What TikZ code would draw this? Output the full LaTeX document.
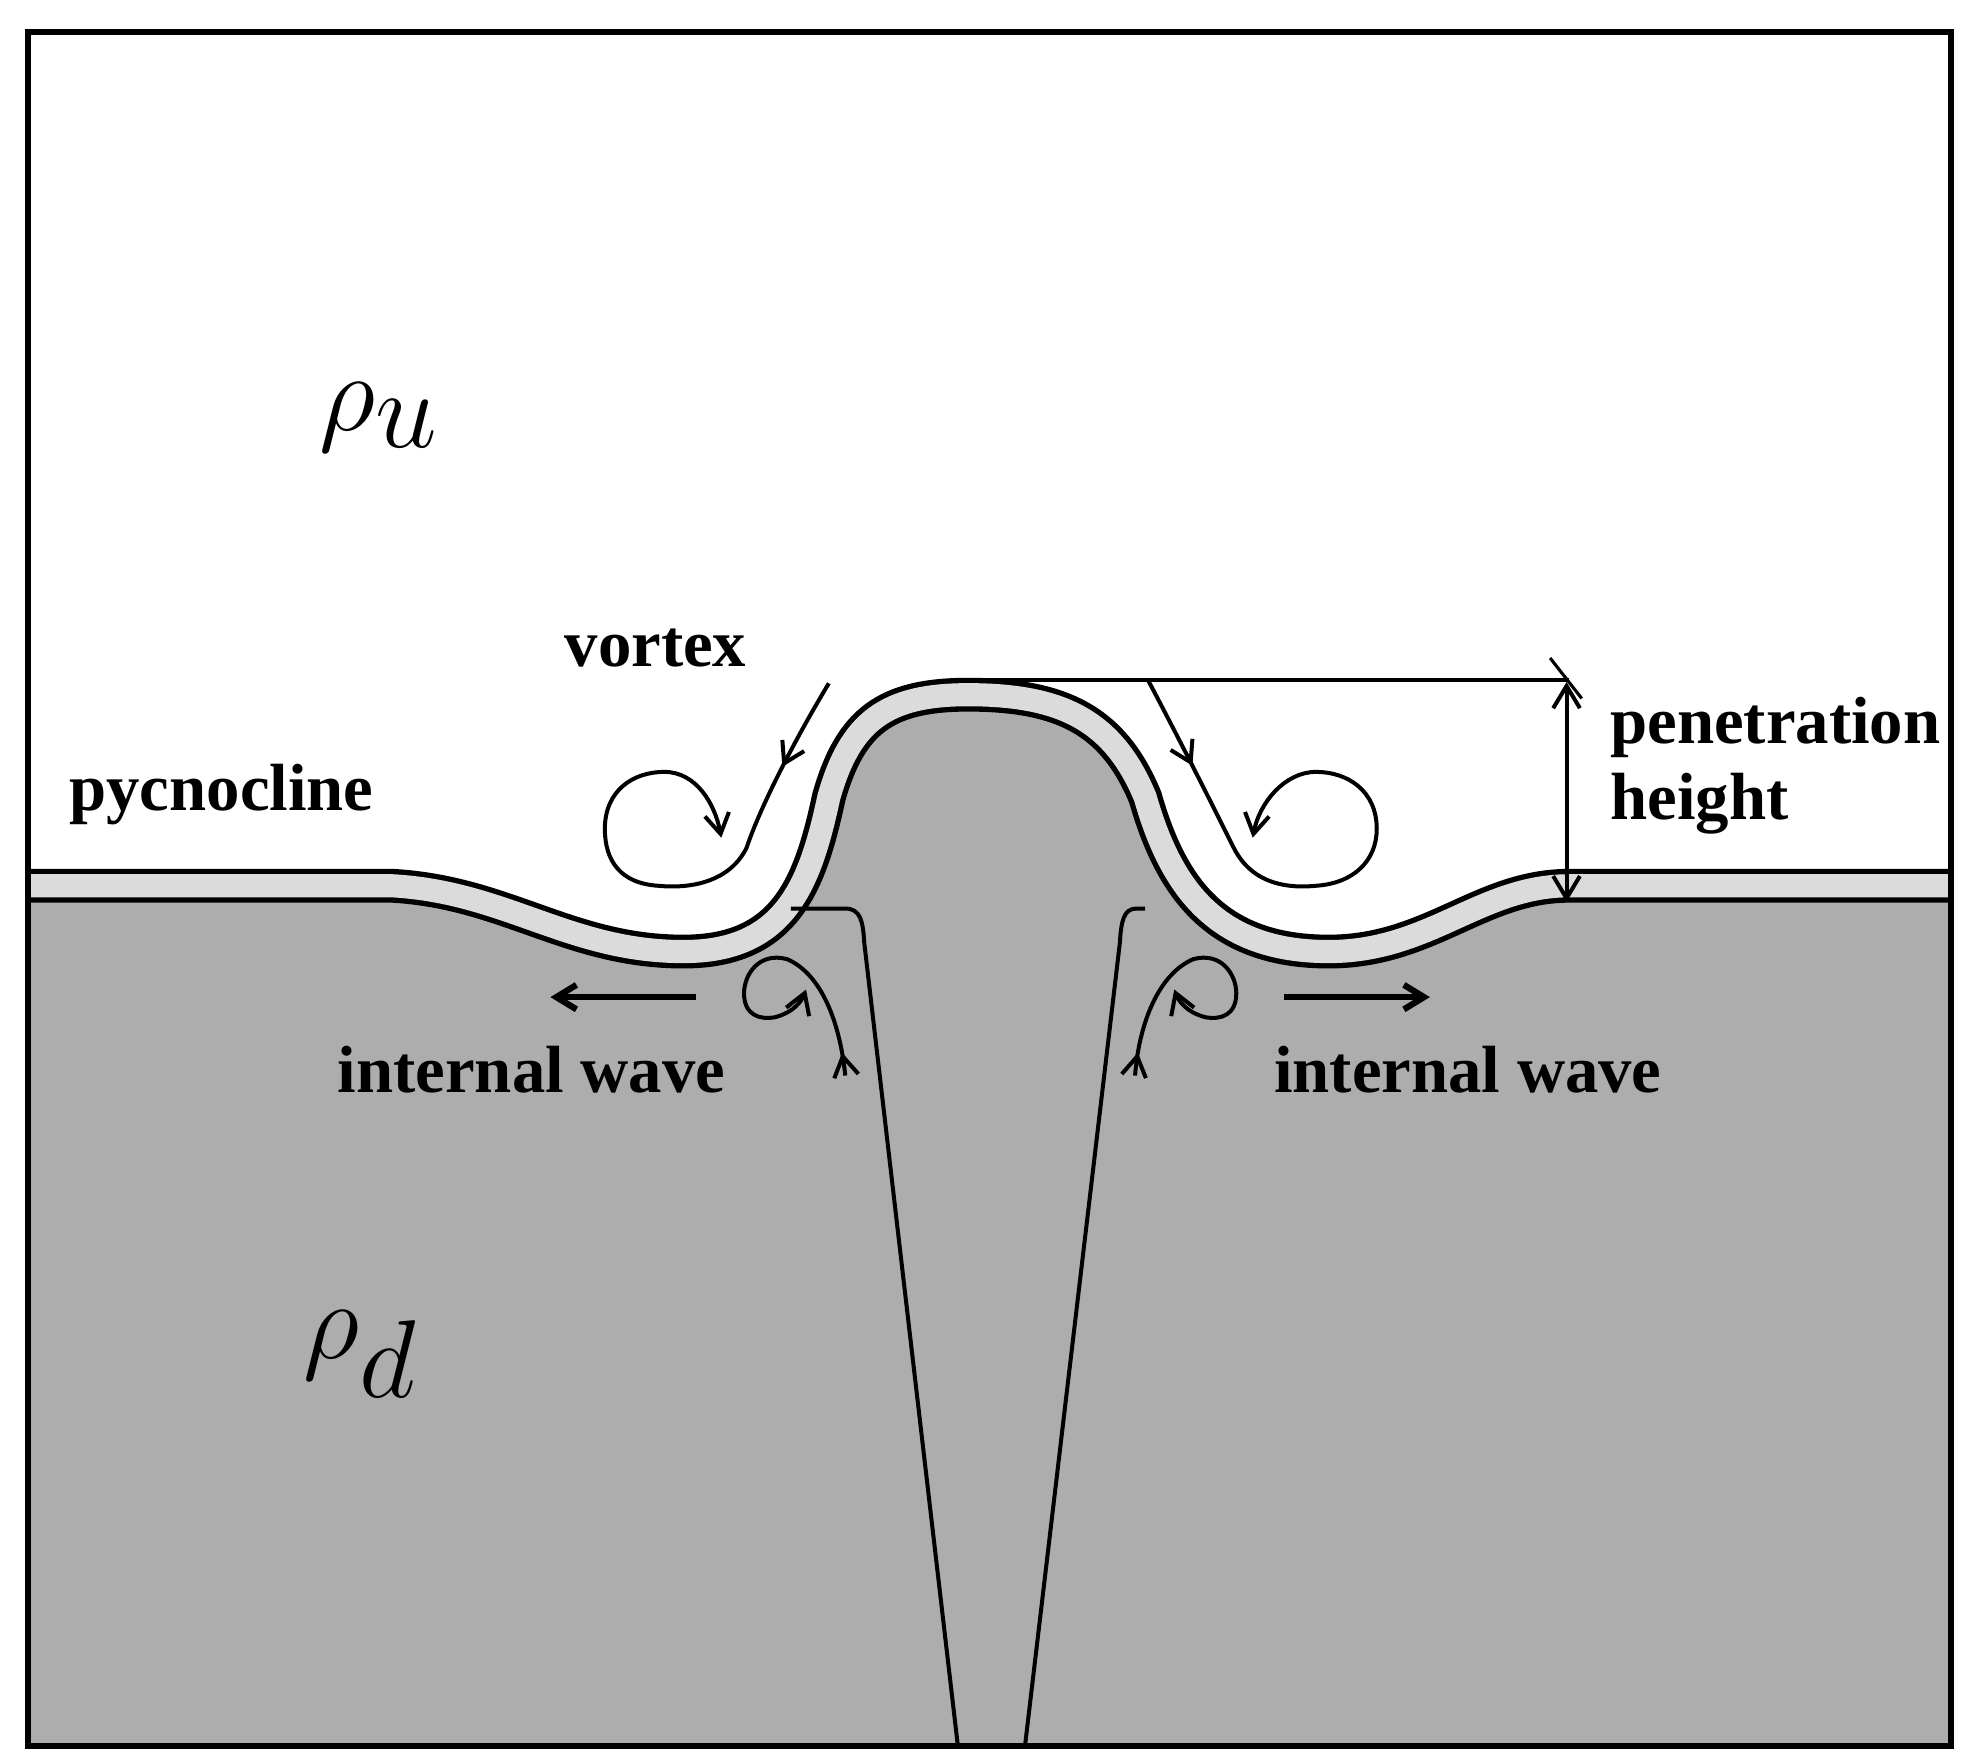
\documentclass[tikz,border=0pt]{standalone}
\usepackage{fontspec}
\setmainfont{Liberation Serif}
\usetikzlibrary{arrows.meta,decorations.markings}
\begin{document}
\begin{tikzpicture}[x=0.01cm,y=-0.01cm,
  lbl/.style={font=\fontsize{15}{17}\selectfont\bfseries, inner sep=0pt},
  flow/.style={line width=0.9pt},
  midarrow/.style={postaction={decorate},decoration={markings,mark=at position #1 with {\arrow{Straight Barb[length=4.5pt,width=5.5pt]}}}},
  tip/.style={-{Straight Barb[length=4.5pt,width=5.5pt]}}]
\useasboundingbox (0,0) rectangle (1560,1394);
\definecolor{dg}{gray}{0.68}
\definecolor{lg}{gray}{0.86}
% lower fluid
\fill[dg] (22,700) -- (310,700) .. controls (400,705) and (450,752) .. (540,752)
  .. controls (620,752) and (640,700) .. (655,630) .. controls (672,570) and (700,549) .. (765,549)
  .. controls (840,549) and (880,570) .. (905,630) .. controls (925,700) and (960,752) .. (1050,752)
  .. controls (1130,752) and (1170,700) .. (1240,700) -- (1542,700) -- (1542,1380) -- (22,1380) -- cycle;
% pycnocline band
\foreach \w/\c in {7.6pt/black,5.2pt/lg}{
\draw[line width=\w,draw=\c] (22,700) -- (310,700) .. controls (400,705) and (450,752) .. (540,752)
  .. controls (620,752) and (640,700) .. (655,630) .. controls (672,570) and (700,549) .. (765,549)
  .. controls (840,549) and (880,570) .. (905,630) .. controls (925,700) and (960,752) .. (1050,752)
  .. controls (1130,752) and (1170,700) .. (1240,700) -- (1542,700);}
% plume stem
\draw[flow] (625,718) -- (668,718) .. controls (680,718) and (682,728) .. (683,745) -- (757,1380);
\draw[flow] (905,718) -- (898,718) .. controls (888,718) and (886,728) .. (885,745) -- (810,1380);
% upper vortices
\draw[flow,midarrow=0.17,tip] (655,540) .. controls (625,590) and (600,640) .. (590,670)
  .. controls (575,700) and (540,702) .. (520,700) .. controls (490,698) and (478,680) .. (478,655)
  .. controls (478,625) and (500,610) .. (525,610) .. controls (550,610) and (565,635) .. (570,662);
\draw[flow,midarrow=0.17,tip] (907,537) .. controls (935,590) and (960,640) .. (975,670)
  .. controls (990,700) and (1020,702) .. (1040,700) .. controls (1070,698) and (1088,680) .. (1088,655)
  .. controls (1088,625) and (1065,610) .. (1040,610) .. controls (1015,610) and (995,635) .. (990,662);
% lower vortices
\draw[flow,midarrow=0.08,tip] (668,850) .. controls (664,810) and (650,770) .. (622,758)
  .. controls (600,752) and (588,770) .. (588,785) .. controls (588,802) and (600,806) .. (612,804)
  .. controls (628,800) and (634,790) .. (637,782);
\draw[flow,midarrow=0.08,tip] (897,850) .. controls (900,810) and (915,770) .. (943,758)
  .. controls (965,752) and (977,770) .. (977,785) .. controls (977,802) and (965,806) .. (953,804)
  .. controls (937,800) and (931,790) .. (928,782);
% internal wave arrows
\draw[line width=1.4pt,tip] (550,788) -- (435,788);
\draw[line width=1.4pt,tip] (1015,788) -- (1130,788);
% penetration height
\draw[line width=0.9pt] (758,537) -- (1240,537);
\draw[line width=0.9pt,{Straight Barb[length=5pt,width=6pt]}-{Straight Barb[length=5pt,width=6pt]}] (1238,539) -- (1238,713);
\draw[line width=0.7pt] (1225,520) -- (1250,552);
% frame
\draw[line width=1.3pt] (22,25) rectangle (1542,1380);
% labels
\node[inner sep=0pt] at (300,330) {\fontsize{44}{48}\selectfont$\rho_u$};
\node[inner sep=0pt] at (285,1070) {\fontsize{44}{48}\selectfont$\rho_d$};
\node[lbl] at (518,512) {vortex};
\node[lbl] at (175,628) {pycnocline};
\node[lbl,anchor=west,align=left] at (1272,605) {penetration\\height};
\node[lbl] at (420,845) {internal wave};
\node[lbl] at (1160,845) {internal wave};
\end{tikzpicture}
\end{document}
